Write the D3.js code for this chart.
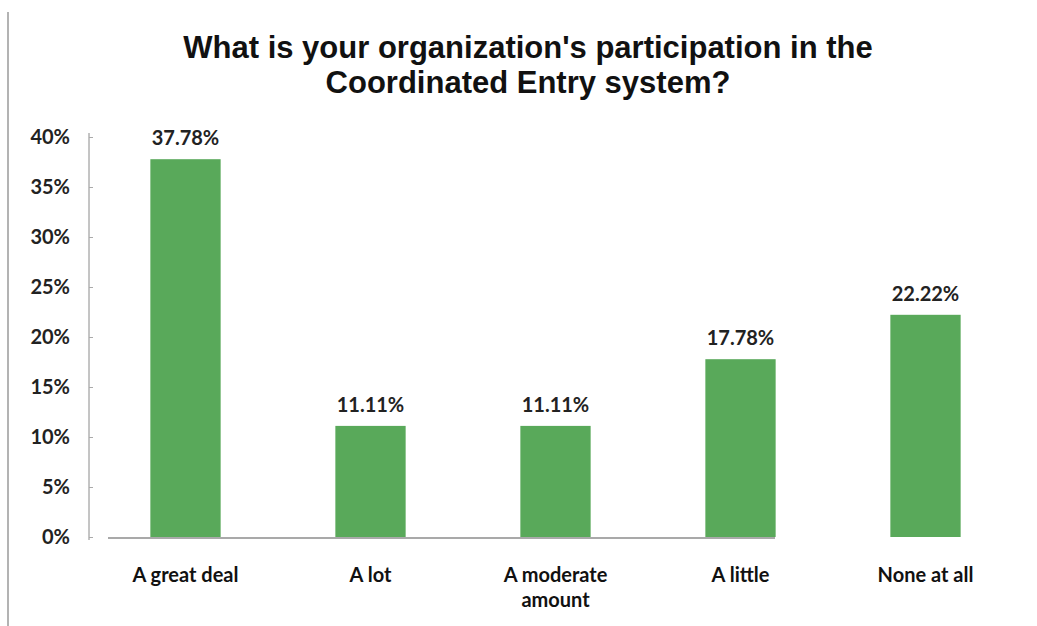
<!DOCTYPE html>
<html>
<head>
<meta charset="utf-8">
<script src="https://cdn.jsdelivr.net/npm/d3@7"></script>
<style>
	body { margin: 0; background: #fff; }
	svg { display: block; }
</style>
</head>
<body>
<div id="chart"></div>
<script>
const categories = ['A great deal', 'A lot', 'A moderate amount', 'A little', 'None at all'];
const categoryLines = [['A great deal'], ['A lot'], ['A moderate', 'amount'], ['A little'], ['None at all']];
const values = [37.78, 11.11, 11.11, 17.78, 22.22];
const yTicks = [0, 5, 10, 15, 20, 25, 30, 35, 40];
const titleLines = ["What is your organization's participation in the", 'Coordinated Entry system?'];

const width = 1037, height = 626;
const margin = { top: 137, right: 20, bottom: 89, left: 93 };
const labelFont = 'Lato, "Open Sans", sans-serif';

const svg = d3.select('#chart').append('svg')
	.attr('width', width)
	.attr('height', height);

// faint frame line on the left of the scan
svg.append('line')
	.attr('x1', 8).attr('x2', 8)
	.attr('y1', 12).attr('y2', height)
	.attr('stroke', '#9a9a9a')
	.attr('stroke-width', 1.5);

let x = d3.scaleBand()
	.domain(categories)
	.range([margin.left, margin.left + 925])
	.paddingInner(0.62)
	.paddingOuter(0.31);

let y = d3.scaleLinear()
	.domain([0, 40])
	.range([height - margin.bottom, margin.top]);

// title
svg.append('text')
	.attr('x', 528)
	.attr('y', 58)
	.attr('text-anchor', 'middle')
	.style('font-family', '"Liberation Sans", Arial, sans-serif')
	.style('font-weight', 'bold')
	.style('font-size', '31px')
	.style('fill', '#111')
	.selectAll('tspan')
	.data(titleLines)
	.enter()
	.append('tspan')
	.attr('x', 528)
	.attr('dy', (d, i) => i === 0 ? 0 : 35)
	.text(d => d);

// y axis
let yAxis = d3.axisLeft(y)
	.tickValues(yTicks)
	.tickSize(4)
	.tickPadding(22)
	.tickFormat(d => d + '%');

let yg = svg.append('g')
	.attr('transform', `translate(${margin.left},0)`)
	.call(yAxis);

yg.select('.domain').attr('stroke', '#8a8a8a').attr('d', `M-4,${y(0) + 3}V${y(40) - 4}`);
yg.selectAll('.tick line').attr('stroke', '#aaa');
yg.selectAll('.tick text')
	.style('font-family', labelFont)
	.style('font-weight', 'bold')
	.style('font-size', '20px')
	.style('fill', '#222')
	.attr('x', -23);

// baseline
svg.append('line')
	.attr('x1', margin.left + 15)
	.attr('x2', 775)
	.attr('y1', y(0) + 1)
	.attr('y2', y(0) + 1)
	.attr('stroke', '#555')
	.attr('stroke-width', 1.2);

// bars
svg.selectAll('.bar')
	.data(values)
	.enter()
	.append('rect')
	.attr('class', 'bar')
	.attr('x', (d, i) => x(categories[i]))
	.attr('y', d => y(d))
	.attr('width', x.bandwidth())
	.attr('height', d => y(0) - y(d))
	.attr('fill', '#59a95a');

// value labels
svg.selectAll('.value')
	.data(values)
	.enter()
	.append('text')
	.attr('class', 'value')
	.attr('x', (d, i) => x(categories[i]) + x.bandwidth() / 2)
	.attr('y', d => y(d) - 14)
	.attr('text-anchor', 'middle')
	.style('font-family', labelFont)
	.style('font-weight', 'bold')
	.style('font-size', '20px')
	.style('fill', '#222')
	.text(d => d.toFixed(2) + '%');

// category labels
let cats = svg.selectAll('.cat')
	.data(categoryLines)
	.enter()
	.append('text')
	.attr('class', 'cat')
	.attr('text-anchor', 'middle')
	.attr('y', y(0) + 45)
	.style('font-family', labelFont)
	.style('font-weight', 'bold')
	.style('font-size', '20px')
	.style('fill', '#111');

cats.selectAll('tspan')
	.data((d, i) => d.map(t => ({ t: t, cx: x(categories[i]) + x.bandwidth() / 2 })))
	.enter()
	.append('tspan')
	.attr('x', d => d.cx)
	.attr('dy', (d, i) => i === 0 ? 0 : 25)
	.text(d => d.t);
</script>
</body>
</html>
